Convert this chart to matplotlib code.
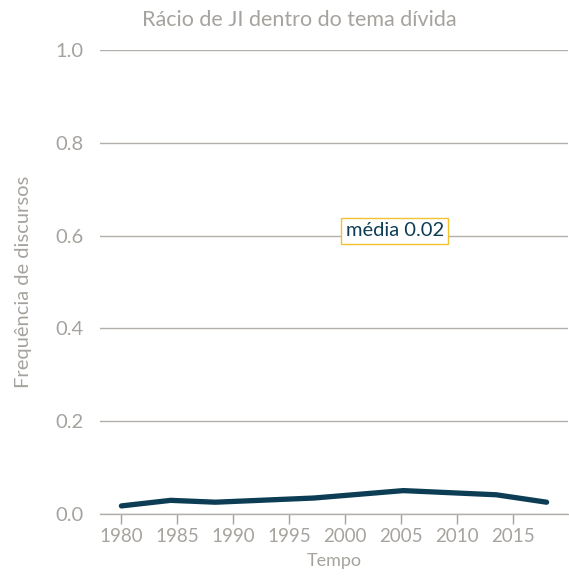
import matplotlib.pyplot as plt

# valores
anos = [1980.0, 1984.4, 1988.4, 1997.2, 2005.2, 2013.5, 2018.0]
racio = [0.017, 0.029, 0.025, 0.034, 0.050, 0.041, 0.025]
media = 0.02
xticks = [1980, 1985, 1990, 1995, 2000, 2005, 2010, 2015]
yticks = [0.0, 0.2, 0.4, 0.6, 0.8, 1.0]

cinza = '#a6a39e'
linha = '#0d3d55'

plt.rcParams['font.family'] = ['Lato', 'DejaVu Sans']

fig = plt.figure(figsize=(5.69, 5.76), dpi=100)
ax = fig.add_axes([0.176, 0.108, 0.822, 0.805])

ax.plot(anos, racio, color=linha, linewidth=3.8, solid_capstyle='round', solid_joinstyle='round', zorder=3)

span = anos[-1] - anos[0]
ax.set_xlim(anos[0] - 0.05 * span, anos[-1] + 0.05 * span)
ax.set_ylim(0, 1.0)
ax.set_xticks(xticks)
ax.set_yticks(yticks)
ax.set_yticklabels([f'{v:.1f}' for v in yticks])

ax.grid(axis='y', color='#b3b0ab', linewidth=1)
ax.set_axisbelow(True)
for s in ['top', 'right', 'left']:
    ax.spines[s].set_visible(False)
ax.spines['bottom'].set_color('#b3b0ab')
ax.spines['bottom'].set_linewidth(1)

ax.tick_params(axis='x', colors=cinza, labelsize=13.5, length=7, width=1, pad=3)
ax.tick_params(axis='y', colors=cinza, labelsize=14.5, length=0, pad=12)

ax.set_xlabel('Tempo', color=cinza, fontsize=13, labelpad=6)
ax.set_ylabel('Frequência de discursos', color=cinza, fontsize=14.5, labelpad=17)
fig.text(0.526, 0.965, 'Rácio de JI dentro do tema dívida', color=cinza, fontsize=15.5,
         ha='center', va='center')

ax.text(0.63, 0.61, f'média {media:.2f}', transform=ax.transAxes, ha='center', va='center',
        color=linha, fontsize=14.5,
        bbox=dict(boxstyle='square,pad=0.22', facecolor='white', edgecolor='#f2c230', linewidth=1))

fig.savefig('out.png', dpi=100)
